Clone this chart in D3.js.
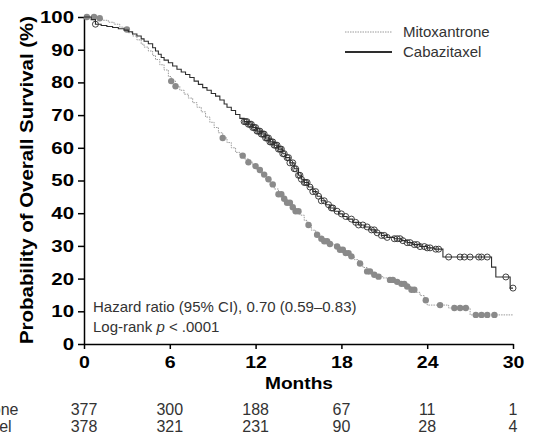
<!DOCTYPE html>
<html>
<head>
<meta charset="utf-8">
<script src="https://cdn.jsdelivr.net/npm/d3@7"></script>
<style>
  body { margin: 0; background: #fff; }
  svg { display: block; font-family: "Liberation Sans", Arial, sans-serif; }
  .tick line, .domain { stroke: #000; stroke-width: 1.5; }
  .tick text { font-size: 17px; font-weight: bold; fill: #000; }
</style>
</head>
<body>
<svg id="km" width="533" height="441"></svg>
<script>
(function() {
    // Kaplan-Meier step points [month, survival %]
    var cabazitaxel = [
        [0, 100], [0.5, 99.2], [0.8, 97.8], [1.2, 97.4], [1.6, 97.1], [2.0, 96.8], [2.4, 96.4],
        [2.8, 96.0], [3.1, 95.5], [3.4, 94.8], [3.7, 94.2], [4.0, 93.3], [4.2, 92.6], [4.5, 91.8],
        [4.8, 90.6], [5.0, 89.6], [5.2, 88.6], [5.4, 87.6], [5.6, 86.8], [5.9, 86.0], [6.2, 85.0],
        [6.5, 84.0], [6.8, 83.2], [7.1, 82.4], [7.4, 81.5], [7.7, 80.4], [8.0, 79.4], [8.3, 78.4],
        [8.6, 77.6], [8.9, 76.6], [9.2, 75.8], [9.5, 74.6], [9.8, 73.4], [10.0, 72.4], [10.3, 71.4],
        [10.6, 70.2], [10.9, 69.0], [11.2, 68.0], [11.5, 67.2], [11.8, 66.2], [12.1, 65.1],
        [12.4, 64.2], [12.7, 63.0], [13.0, 61.8], [13.3, 60.8], [13.6, 59.6], [13.9, 58.2],
        [14.1, 57.0], [14.4, 55.4], [14.7, 53.6], [15.0, 51.6], [15.2, 50.4], [15.4, 49.4],
        [15.7, 48.0], [16.0, 46.6], [16.3, 45.2], [16.6, 43.8], [16.9, 42.6], [17.2, 41.6],
        [17.5, 40.6], [17.8, 39.8], [18.1, 39.0], [18.4, 38.2], [18.8, 37.2], [19.2, 36.4],
        [19.6, 35.8], [20.0, 34.9], [20.4, 34.0], [20.8, 33.2], [21.2, 32.6], [21.7, 32.2],
        [22.2, 31.6], [22.6, 31.0], [23.0, 30.4], [23.5, 29.8], [24.0, 29.4], [24.5, 29.0],
        [25.1, 26.6], [28.5, 23.5], [28.8, 20.5], [29.8, 17.1], [30, 17.1]
    ];
    var mitoxantrone = [
        [0, 100], [0.9, 99.6], [1.3, 99.0], [1.7, 98.4], [2.1, 97.8], [2.5, 96.9], [2.8, 96.2],
        [3.1, 95.2], [3.4, 94.2], [3.7, 93.0], [4.0, 91.7], [4.2, 90.8], [4.5, 89.6], [4.8, 88.2],
        [5.0, 87.0], [5.3, 85.4], [5.6, 83.8], [5.9, 81.8], [6.1, 80.4], [6.4, 78.8], [6.7, 77.6],
        [7.0, 76.4], [7.3, 75.2], [7.6, 73.8], [7.9, 72.4], [8.2, 71.0], [8.5, 69.4], [8.8, 67.8],
        [9.1, 66.2], [9.4, 64.6], [9.7, 63.0], [10.0, 61.6], [10.3, 60.0], [10.6, 58.6],
        [10.9, 57.6], [11.2, 56.6], [11.5, 55.6], [11.8, 54.4], [12.1, 53.2], [12.4, 51.8],
        [12.7, 50.4], [13.0, 48.8], [13.3, 47.4], [13.6, 45.8], [13.9, 44.4], [14.2, 43.2],
        [14.5, 41.8], [14.8, 40.6], [15.1, 39.4], [15.4, 37.8], [15.6, 36.4], [15.9, 34.8],
        [16.2, 33.4], [16.5, 32.2], [16.8, 31.4], [17.1, 30.6], [17.5, 29.8], [17.9, 28.8],
        [18.3, 27.8], [18.6, 26.8], [18.9, 25.8], [19.2, 24.6], [19.5, 23.4], [19.8, 22.2],
        [20.1, 21.2], [20.5, 20.6], [20.9, 20.2], [21.3, 19.6], [21.7, 19.0], [22.1, 18.4],
        [22.5, 17.6], [22.9, 16.6], [23.2, 15.8], [23.5, 14.8], [23.8, 13.4], [24.0, 11.9],
        [25.5, 11.0], [27.0, 8.9], [30, 8.9]
    ];
    // censoring times (months)
    var cabCensor = [0.8, 11.2, 11.3, 11.4, 11.5, 11.6, 11.7, 11.8, 11.9, 12.0, 12.1, 12.2, 12.3,
        12.4, 12.5, 12.6, 12.7, 12.8, 12.9, 13.0, 13.1, 13.2, 13.3, 13.4, 13.5, 13.6, 13.7, 13.8,
        13.9, 14.0, 14.2, 14.3, 14.4, 14.6, 14.7, 14.8, 15.0, 15.1, 15.2, 15.4, 15.5, 15.6, 15.8,
        16.0, 16.2, 16.4, 16.6, 16.8, 17.1, 17.3, 17.4, 17.7, 18.0, 18.3, 18.7, 19.0, 19.2, 19.5, 19.8,
        20.1, 20.3, 20.5, 20.8, 21.0, 21.2, 21.7, 21.9, 22.1, 22.3, 22.6, 22.8, 23.1, 23.3, 23.5,
        23.8, 24.0, 24.2, 24.6, 24.8, 25.5, 26.3, 26.6, 27.0, 27.6, 27.8, 28.2, 29.5, 30.0];
    var mitCensor = [0.2, 0.7, 1.1, 3.0, 6.1, 6.4, 9.7, 11.1, 11.5, 12.0, 12.3, 12.6, 12.9, 13.2,
        13.6, 13.8, 14.0, 14.2, 14.4, 14.6, 14.8, 15.0, 15.7, 16.3, 16.6, 16.8, 17.0, 17.2, 17.7,
        17.9, 18.1, 18.3, 18.5, 18.7, 19.3, 19.8, 20.0, 20.3, 20.6, 21.4, 21.6, 21.9, 22.2, 22.4,
        22.6, 22.9, 23.1, 23.9, 24.9, 25.9, 26.3, 26.7, 27.4, 27.8, 28.2, 28.7];

    // number at risk
    var riskMonths = [0, 6, 12, 18, 24, 30];
    var riskMito = [377, 300, 188, 67, 11, 1];
    var riskCaba = [378, 321, 231, 90, 28, 4];

    var xTicks = [0, 6, 12, 18, 24, 30];
    var yTicks = [0, 10, 20, 30, 40, 50, 60, 70, 80, 90, 100];

    var svg = d3.select("#km");
    var x = d3.scaleLinear().domain([0, 30]).range([84, 513]);
    var y = d3.scaleLinear().domain([0, 100]).range([344, 17]);

    // axes
    var xAxis = svg.append("g")
        .attr("transform", "translate(0,344)")
        .call(d3.axisBottom(x).tickValues(xTicks).tickSize(5).tickPadding(6).tickSizeOuter(0));
    xAxis.selectAll(".tick text").attr("transform", "scale(1.15,1)").attr("dy", "0.75em");

    var yAxis = svg.append("g")
        .attr("transform", "translate(84,0)")
        .call(d3.axisLeft(y).tickValues(yTicks).tickSize(6).tickPadding(4).tickSizeOuter(0));
    yAxis.selectAll(".tick text").attr("x", -10 / 1.2).attr("transform", "scale(1.2,1)");

    svg.append("text")
        .attr("transform", "translate(33,180) rotate(-90)")
        .attr("text-anchor", "middle")
        .attr("textLength", 328).attr("lengthAdjust", "spacingAndGlyphs")
        .style("font-size", "17.5px").style("font-weight", "bold")
        .text("Probability of Overall Survival (%)");

    svg.append("text")
        .attr("x", 299).attr("y", 389)
        .attr("text-anchor", "middle")
        .attr("textLength", 68).attr("lengthAdjust", "spacingAndGlyphs")
        .style("font-size", "17px").style("font-weight", "bold")
        .text("Months");

    // curves
    var line = d3.line().x(d => x(d[0])).y(d => y(d[1])).curve(d3.curveStepAfter);
    var at = (data, t) => data[Math.max(0, d3.bisector(d => d[0]).right(data, t) - 1)][1];

    svg.append("path").datum(mitoxantrone)
        .attr("d", line).attr("fill", "none")
        .attr("stroke", "#9a9a9a").attr("stroke-width", 1).attr("stroke-dasharray", "1.5,1");
    svg.append("g").selectAll("circle")
        .data(mitCensor).join("circle")
        .attr("cx", d => x(d)).attr("cy", d => y(at(mitoxantrone, d)))
        .attr("r", 3.2).attr("fill", "#8a8a8a");

    svg.append("path").datum(cabazitaxel)
        .attr("d", line).attr("fill", "none")
        .attr("stroke", "#2e2e2e").attr("stroke-width", 1.1);
    svg.append("g").selectAll("circle")
        .data(cabCensor).join("circle")
        .attr("cx", d => x(d)).attr("cy", d => y(at(cabazitaxel, d)))
        .attr("r", 3).attr("fill", "none").attr("stroke", "#2e2e2e").attr("stroke-width", 0.9);

    // legend
    var legend = svg.append("g").style("font-size", "15px").style("fill", "#333");
    legend.append("line").attr("x1", 345).attr("x2", 392).attr("y1", 32).attr("y2", 32)
        .attr("stroke", "#9a9a9a").attr("stroke-width", 1).attr("stroke-dasharray", "1.5,1");
    legend.append("line").attr("x1", 345).attr("x2", 392).attr("y1", 52).attr("y2", 52)
        .attr("stroke", "#2e2e2e").attr("stroke-width", 2);
    legend.append("text").attr("x", 403).attr("y", 37).text("Mitoxantrone");
    legend.append("text").attr("x", 403).attr("y", 57).text("Cabazitaxel");

    // hazard ratio
    var note = svg.append("g").style("font-size", "15px").style("fill", "#333");
    note.append("text").attr("x", 93).attr("y", 312).text("Hazard ratio (95% CI), 0.70 (0.59\u20130.83)");
    var lr = note.append("text").attr("x", 93).attr("y", 332);
    lr.append("tspan").text("Log-rank ");
    lr.append("tspan").style("font-style", "italic").text("p");
    lr.append("tspan").text(" < .0001");

    // number at risk rows
    var risk = svg.append("g").style("font-size", "16px").style("fill", "#333");
    risk.append("text").attr("x", -74).attr("y", 415).text("Mitoxantrone");
    risk.append("text").attr("x", -72).attr("y", 432).text("Cabazitaxel");
    risk.append("g").selectAll("text").data(riskMito).join("text")
        .attr("x", (d, i) => x(riskMonths[i])).attr("y", 415)
        .attr("text-anchor", "middle").text(d => d);
    risk.append("g").selectAll("text").data(riskCaba).join("text")
        .attr("x", (d, i) => x(riskMonths[i])).attr("y", 432)
        .attr("text-anchor", "middle").text(d => d);
})();
</script>
</body>
</html>
